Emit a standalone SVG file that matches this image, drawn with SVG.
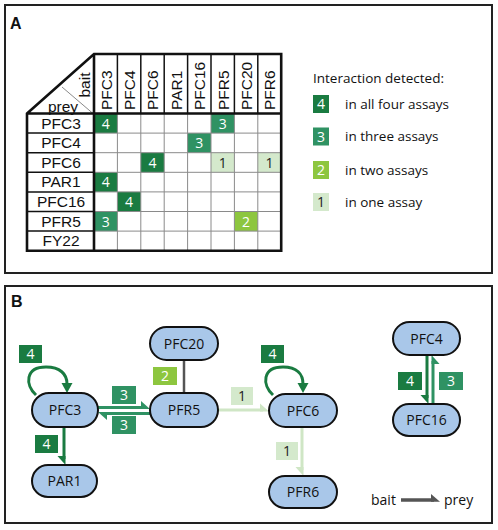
<svg xmlns="http://www.w3.org/2000/svg" width="498" height="530" viewBox="0 0 498 530">
<style>
.panel{fill:#fff;stroke:#222;stroke-width:2}
.plabel{font-family:"Liberation Sans",Arial,sans-serif;font-weight:bold;font-size:16px;fill:#111}
.tt{font-family:"Liberation Sans",Arial,sans-serif;font-size:15.5px;fill:#111}
.thick{stroke:#111;stroke-width:2.6;fill:none}
.med{stroke:#111;stroke-width:1.5}
.thin{stroke:#8a8a8a;stroke-width:1}
.c4{fill:#1a7b41}
.c3{fill:#2f9263}
.c2{fill:#8dc63f}
.c1{fill:#d4e9cc}
.num{font-family:"Open Sans","Noto Sans",sans-serif;font-size:14px;text-anchor:middle;fill:#fff}
.num1{fill:#222}
.leg{font-family:"Open Sans","Noto Sans",sans-serif;font-size:13.5px;fill:#111}
.node rect{fill:#a9c7e9;stroke:#111;stroke-width:2}
.node text{font-family:"Open Sans","Noto Sans",sans-serif;font-size:14px;text-anchor:middle;fill:#111}
.e4{stroke:#1a7b41;fill:none;stroke-width:3}
.e3{stroke:#2f9263;fill:none;stroke-width:3}
.e1{stroke:#cfe6c5;fill:none;stroke-width:3}
.eg{stroke:#555;fill:none;stroke-width:2.5}
.h4{fill:#1a7b41}.h3{fill:#2f9263}.h1{fill:#cfe6c5}.hg{fill:#555}
</style>

<!-- Panel A -->
<rect class="panel" x="5" y="5" width="487" height="268"/>
<text class="plabel" x="10" y="29">A</text>

<g id="table">
  <!-- colored cells -->
  <rect class="c4" x="94" y="113.5" width="23.4" height="19.6"/>
  <rect class="c3" x="211" y="113.5" width="23.4" height="19.6"/>
  <rect class="c3" x="187.6" y="133.1" width="23.4" height="19.6"/>
  <rect class="c4" x="140.8" y="152.7" width="23.4" height="19.6"/>
  <rect class="c1" x="211" y="152.7" width="23.4" height="19.6"/>
  <rect class="c1" x="257.8" y="152.7" width="23.4" height="19.6"/>
  <rect class="c4" x="94" y="172.3" width="23.4" height="19.6"/>
  <rect class="c4" x="117.4" y="191.9" width="23.4" height="19.6"/>
  <rect class="c3" x="94" y="211.5" width="23.4" height="19.6"/>
  <rect class="c2" x="234.4" y="211.5" width="23.4" height="19.6"/>
  <!-- cell numbers -->
  <text class="num" x="105.7" y="128.5">4</text>
  <text class="num" x="222.7" y="128.5">3</text>
  <text class="num" x="199.3" y="148.1">3</text>
  <text class="num" x="152.5" y="167.7">4</text>
  <text class="num num1" x="222.7" y="167.7">1</text>
  <text class="num num1" x="269.5" y="167.7">1</text>
  <text class="num" x="105.7" y="187.3">4</text>
  <text class="num" x="129.1" y="206.9">4</text>
  <text class="num" x="105.7" y="226.5">3</text>
  <text class="num" x="246.1" y="226.5">2</text>
  <!-- thin grid in body -->
  <g class="thin">
    <line x1="94" y1="133.1" x2="281.2" y2="133.1"/>
    <line x1="94" y1="152.7" x2="281.2" y2="152.7"/>
    <line x1="94" y1="172.3" x2="281.2" y2="172.3"/>
    <line x1="94" y1="191.9" x2="281.2" y2="191.9"/>
    <line x1="94" y1="211.5" x2="281.2" y2="211.5"/>
    <line x1="94" y1="231.1" x2="281.2" y2="231.1"/>
    <line x1="117.4" y1="113.5" x2="117.4" y2="250.7"/>
    <line x1="140.8" y1="113.5" x2="140.8" y2="250.7"/>
    <line x1="164.2" y1="113.5" x2="164.2" y2="250.7"/>
    <line x1="187.6" y1="113.5" x2="187.6" y2="250.7"/>
    <line x1="211" y1="113.5" x2="211" y2="250.7"/>
    <line x1="234.4" y1="113.5" x2="234.4" y2="250.7"/>
    <line x1="257.8" y1="113.5" x2="257.8" y2="250.7"/>
    <line x1="62" y1="87" x2="93" y2="113.5"/>
  </g>
  <!-- header column separators and row separators in label column -->
  <g class="med">
    <line x1="117.4" y1="54" x2="117.4" y2="113.5"/>
    <line x1="140.8" y1="54" x2="140.8" y2="113.5"/>
    <line x1="164.2" y1="54" x2="164.2" y2="113.5"/>
    <line x1="187.6" y1="54" x2="187.6" y2="113.5"/>
    <line x1="211" y1="54" x2="211" y2="113.5"/>
    <line x1="234.4" y1="54" x2="234.4" y2="113.5"/>
    <line x1="257.8" y1="54" x2="257.8" y2="113.5"/>
    <line x1="27" y1="133.1" x2="94" y2="133.1"/>
    <line x1="27" y1="152.7" x2="94" y2="152.7"/>
    <line x1="27" y1="172.3" x2="94" y2="172.3"/>
    <line x1="27" y1="191.9" x2="94" y2="191.9"/>
    <line x1="27" y1="211.5" x2="94" y2="211.5"/>
    <line x1="27" y1="231.1" x2="94" y2="231.1"/>
  </g>
  <!-- thick outline -->
  <path class="thick" d="M27,113.5 L94,54 L281.2,54 L281.2,250.7 L27,250.7 Z M27,113.5 L281.2,113.5 M94,54 L94,250.7"/>
  <!-- header labels -->
  <text class="tt" transform="translate(111.5,110) rotate(-90)">PFC3</text>
  <text class="tt" transform="translate(134.9,110) rotate(-90)">PFC4</text>
  <text class="tt" transform="translate(158.3,110) rotate(-90)">PFC6</text>
  <text class="tt" transform="translate(181.7,110) rotate(-90)">PAR1</text>
  <text class="tt" transform="translate(205.1,110) rotate(-90)">PFC16</text>
  <text class="tt" transform="translate(228.5,110) rotate(-90)">PFR5</text>
  <text class="tt" transform="translate(251.9,110) rotate(-90)">PFC20</text>
  <text class="tt" transform="translate(275.3,110) rotate(-90)">PFR6</text>
  <text class="tt" text-anchor="middle" transform="translate(89.5,85) rotate(-90)">bait</text>
  <text class="tt" x="63" y="111.5" text-anchor="middle">prey</text>
  <!-- row labels -->
  <text class="tt" x="61" y="128.5" text-anchor="middle">PFC3</text>
  <text class="tt" x="61" y="148.1" text-anchor="middle">PFC4</text>
  <text class="tt" x="61" y="167.7" text-anchor="middle">PFC6</text>
  <text class="tt" x="61" y="187.3" text-anchor="middle">PAR1</text>
  <text class="tt" x="61" y="206.9" text-anchor="middle">PFC16</text>
  <text class="tt" x="61" y="226.5" text-anchor="middle">PFR5</text>
  <text class="tt" x="61" y="246.1" text-anchor="middle">FY22</text>
</g>

<g id="legend">
  <text class="leg" x="313" y="83">Interaction detected:</text>
  <rect class="c4" x="313" y="95" width="16" height="18"/>
  <text class="num" x="321" y="109">4</text>
  <text class="leg" x="345" y="108.5">in all four assays</text>
  <rect class="c3" x="313" y="127.5" width="16" height="18"/>
  <text class="num" x="321" y="141.5">3</text>
  <text class="leg" x="345" y="141">in three assays</text>
  <rect class="c2" x="313" y="161" width="16" height="18"/>
  <text class="num" x="321" y="175">2</text>
  <text class="leg" x="345" y="174.5">in two assays</text>
  <rect class="c1" x="313" y="193" width="16" height="18"/>
  <text class="num num1" x="321" y="207">1</text>
  <text class="leg" x="345" y="206.5">in one assay</text>
</g>

<!-- Panel B -->
<rect class="panel" x="5" y="286" width="487" height="237"/>
<text class="plabel" x="11" y="307">B</text>

<g id="connectors">
  <!-- PFC3 self loop -->
  <path class="e4" d="M36,395 C25,385 25,367 46,367 C60,367 67,374 67,384"/>
  <polygon class="h4" points="67,393 61.5,383 72.5,383"/>
  <!-- PFC6 self loop -->
  <path class="e4" d="M273,395 C262,385 262,367 283,367 C297,367 303,374 303,384"/>
  <polygon class="h4" points="303,393 297.5,383 308.5,383"/>
  <!-- PFC3 -> PFR5 -->
  <line class="e3" x1="98" y1="407.5" x2="144" y2="407.5"/>
  <polygon class="h3" points="150,409 141,401 141,409"/>
  <!-- PFR5 -> PFC3 -->
  <line class="e3" x1="150" y1="413.5" x2="104" y2="413.5"/>
  <polygon class="h3" points="98,412 107,420 107,412"/>
  <!-- PFC20 - PFR5 -->
  <line class="eg" x1="184" y1="360" x2="184" y2="393"/>
  <!-- PFR5 -> PFC6 -->
  <line class="e1" x1="218" y1="410" x2="263" y2="410"/>
  <polygon class="h1" points="269,411.5 260,403.5 260,411.5"/>
  <!-- PFC3 -> PAR1 -->
  <line class="e4" x1="64" y1="427" x2="64" y2="459"/>
  <polygon class="h4" points="65.5,465 57.5,456 65.5,456"/>
  <!-- PFC6 -> PFR6 -->
  <line class="e1" x1="302" y1="427" x2="302" y2="470"/>
  <polygon class="h1" points="303.5,476 295.5,467 303.5,467"/>
  <!-- PFC4 -> PFC16 -->
  <line class="e4" x1="427" y1="355" x2="427" y2="398"/>
  <polygon class="h4" points="428.5,404 420.5,395 428.5,395"/>
  <!-- PFC16 -> PFC4 -->
  <line class="e3" x1="433" y1="404" x2="433" y2="361"/>
  <polygon class="h3" points="431.5,355 439.5,364 431.5,364"/>
  <!-- legend arrow -->
  <line class="eg" x1="401" y1="500" x2="434" y2="500" style="stroke-width:3.5"/>
  <polygon class="hg" points="440,501.75 431,494 431,501.75"/>
</g>

<g id="edge-labels">
  <rect class="c4" x="19" y="345" width="23" height="18"/><text class="num" x="30.5" y="359">4</text>
  <rect class="c4" x="35" y="435" width="23" height="18"/><text class="num" x="46.5" y="449">4</text>
  <rect class="c3" x="112" y="386" width="24" height="18"/><text class="num" x="124" y="400">3</text>
  <rect class="c3" x="112" y="416" width="24" height="18"/><text class="num" x="124" y="430">3</text>
  <rect class="c2" x="153" y="367" width="24" height="18"/><text class="num" x="165" y="381">2</text>
  <rect class="c1" x="231" y="387" width="22" height="18"/><text class="num num1" x="242" y="401">1</text>
  <rect class="c4" x="261" y="345" width="23" height="18"/><text class="num" x="272.5" y="359">4</text>
  <rect class="c1" x="276" y="442" width="22" height="18"/><text class="num num1" x="287" y="456">1</text>
  <rect class="c4" x="398" y="372" width="24" height="18"/><text class="num" x="410" y="386">4</text>
  <rect class="c3" x="439" y="372" width="24" height="18"/><text class="num" x="451" y="386">3</text>
</g>

<g id="PFC20" class="node"><rect x="150" y="327" width="68" height="33" rx="16.5"/><text x="184" y="348.5">PFC20</text></g>
<g id="PFC3" class="node"><rect x="32" y="393" width="66" height="34" rx="17"/><text x="65" y="415">PFC3</text></g>
<g id="PFR5" class="node"><rect x="150" y="393" width="68" height="34" rx="17"/><text x="184" y="415">PFR5</text></g>
<g id="PAR1" class="node"><rect x="32" y="465" width="65" height="32" rx="16"/><text x="64.5" y="486">PAR1</text></g>
<g id="PFC6" class="node"><rect x="269" y="394" width="68" height="33" rx="16.5"/><text x="303" y="415.5">PFC6</text></g>
<g id="PFR6" class="node"><rect x="269" y="476" width="68" height="32" rx="16"/><text x="303" y="497">PFR6</text></g>
<g id="PFC4" class="node"><rect x="393" y="322" width="67" height="33" rx="16.5"/><text x="426.5" y="343.5">PFC4</text></g>
<g id="PFC16" class="node"><rect x="393" y="404" width="67" height="32" rx="16"/><text x="426.5" y="425">PFC16</text></g>

<g id="legend-b">
  <text class="leg" x="371" y="505" style="font-size:14px">bait</text>
  <text class="leg" x="444" y="505" style="font-size:14px">prey</text>
</g>
</svg>
